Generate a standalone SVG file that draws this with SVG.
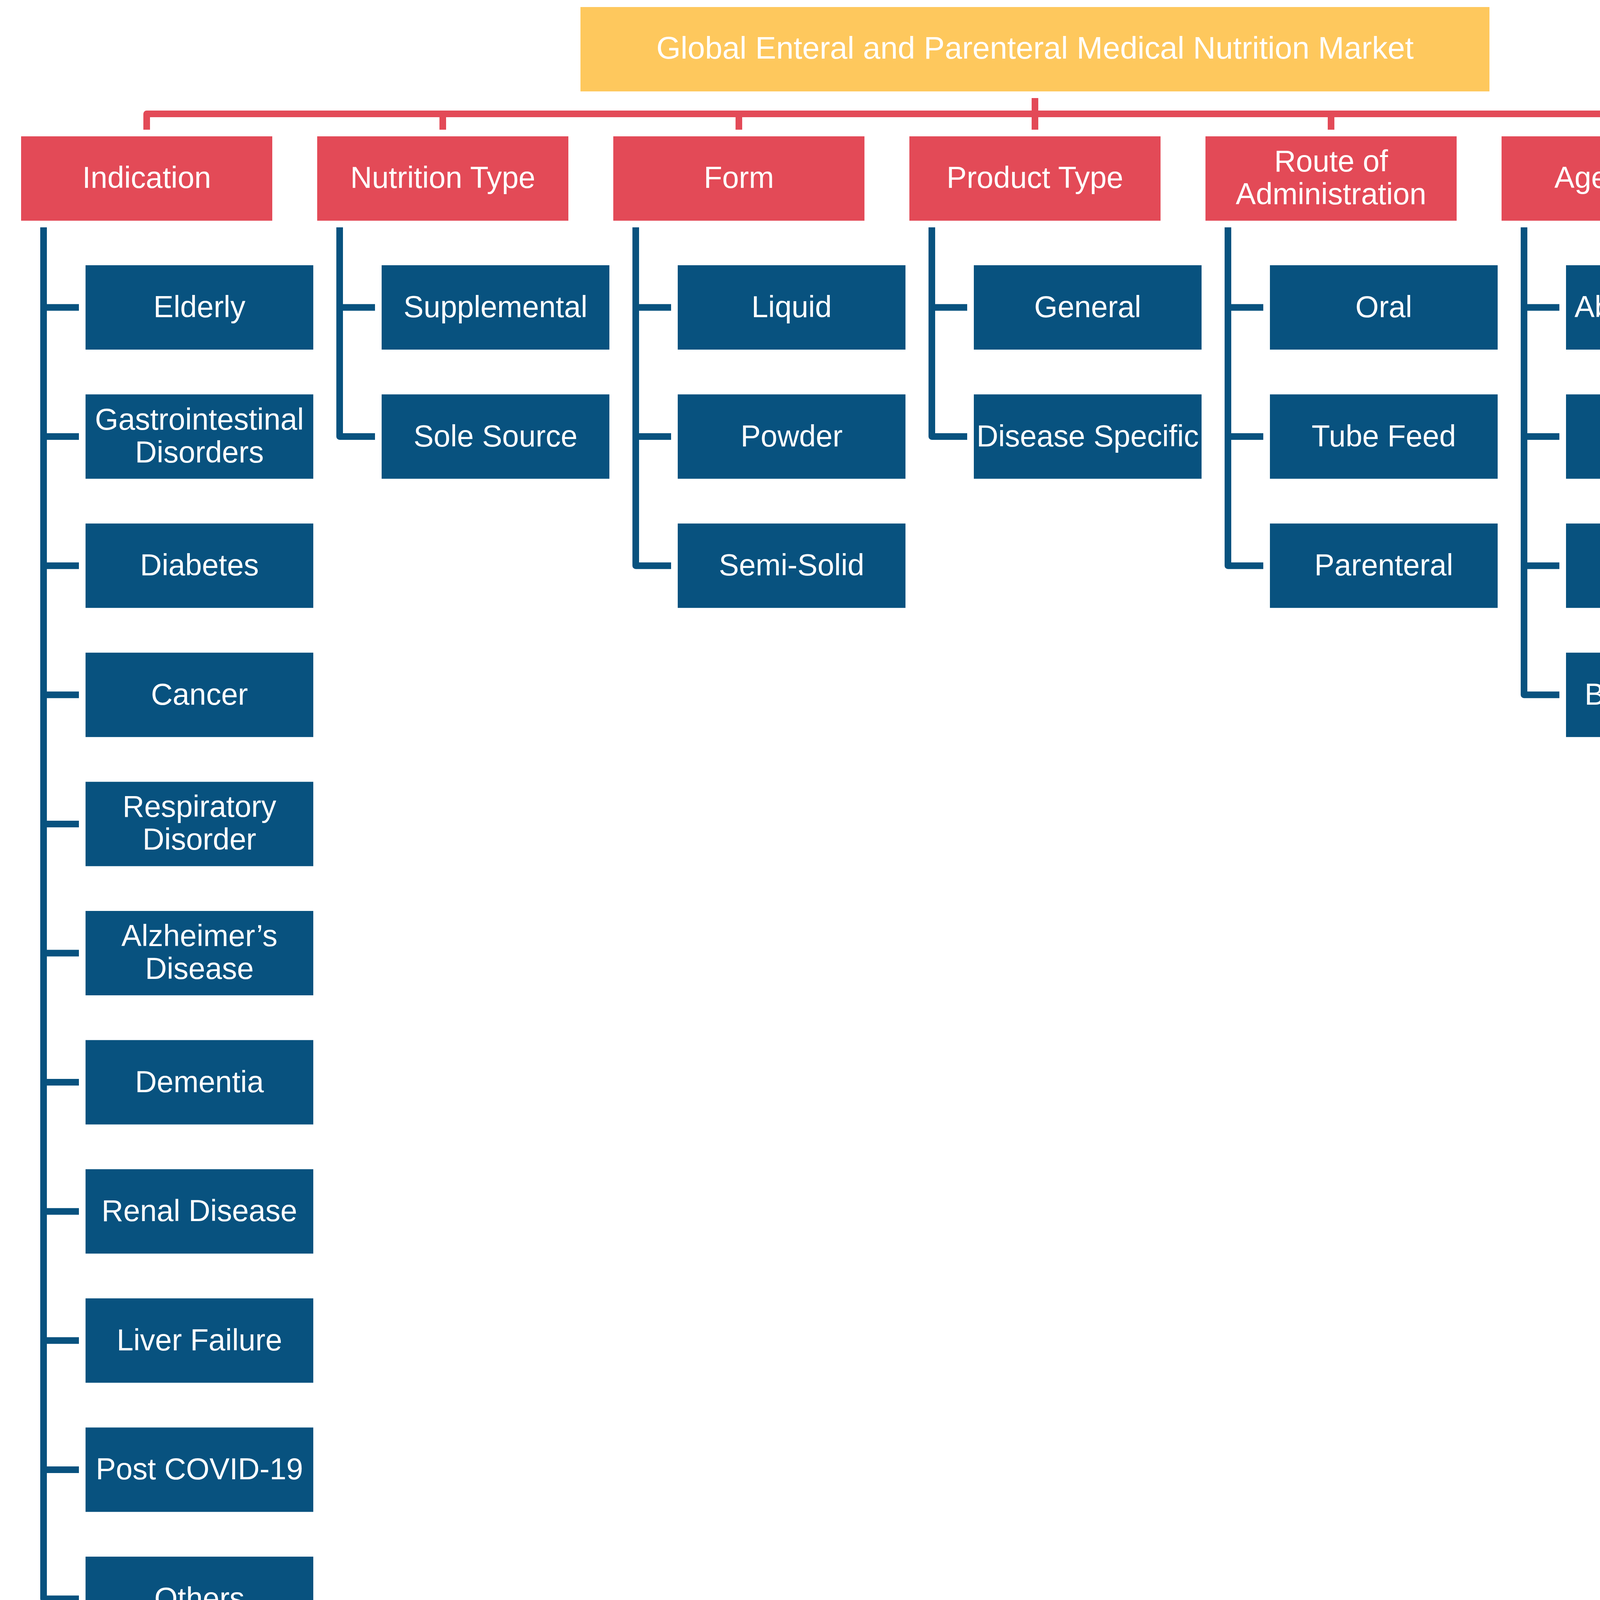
<svg xmlns="http://www.w3.org/2000/svg" width="5401" height="4218" viewBox="0 0 5401 4218">
<style>
.title{fill:#FEC85D}
.hdr{fill:#E34A57}
.leaf{fill:#08527F}
text{font-family:"Liberation Sans",Arial,sans-serif;font-size:77px;fill:#FFFFFF;text-anchor:middle}
.tt{font-size:80px}
.rc{stroke:#E34A57;stroke-width:17;fill:none;stroke-linejoin:round}
.bc{stroke:#08527F;stroke-width:17;fill:none;stroke-linejoin:round}
</style>
<rect width="5401" height="4218" fill="#FFFFFF"/>
<g id="connectors">
<path class="rc" d="M2649.5 251V291.5"/>
<path class="rc" d="M375.5 332V291.5H4923.5V332"/>
<path class="rc" d="M1133.5 291.5V332M1891.5 291.5V332M2649.5 291.5V332M3407.5 291.5V332M4165.5 291.5V332"/>
<!-- Indication -->
<path class="bc" d="M111.5 582V4093H202"/>
<path class="bc" d="M111.5 787H202M111.5 1117.6H202M111.5 1448.2H202M111.5 1778.8H202M111.5 2109.4H202M111.5 2440H202M111.5 2770.6H202M111.5 3101.2H202M111.5 3431.8H202M111.5 3762.4H202"/>
<!-- Nutrition Type -->
<path class="bc" d="M869.5 582V1117.6H960"/>
<path class="bc" d="M869.5 787H960"/>
<!-- Form -->
<path class="bc" d="M1627.5 582V1448.2H1718"/>
<path class="bc" d="M1627.5 787H1718M1627.5 1117.6H1718"/>
<!-- Product Type -->
<path class="bc" d="M2385.5 582V1117.6H2476"/>
<path class="bc" d="M2385.5 787H2476"/>
<!-- Route -->
<path class="bc" d="M3143.5 582V1448.2H3234"/>
<path class="bc" d="M3143.5 787H3234M3143.5 1117.6H3234"/>
<!-- Age -->
<path class="bc" d="M3901.5 582V1778.8H3992"/>
<path class="bc" d="M3901.5 787H3992M3901.5 1117.6H3992M3901.5 1448.2H3992"/>
<!-- Distribution -->
<path class="bc" d="M4659.5 582V1778.8H4750"/>
<path class="bc" d="M4659.5 787H4750M4659.5 1117.6H4750M4659.5 1448.2H4750"/>
</g>
<g id="root"><rect class="title" x="1486" y="18" width="2327" height="216"/><text class="tt" x="2649.5" y="150">Global Enteral and Parenteral Medical Nutrition Market</text></g>
<g id="h-indication"><rect class="hdr" x="54" y="349" width="643" height="216"/><text x="375.5" y="481">Indication</text></g>
<g id="h-nutrition"><rect class="hdr" x="812" y="349" width="643" height="216"/><text x="1133.5" y="481">Nutrition Type</text></g>
<g id="h-form"><rect class="hdr" x="1570" y="349" width="643" height="216"/><text x="1891.5" y="481">Form</text></g>
<g id="h-product"><rect class="hdr" x="2328" y="349" width="643" height="216"/><text x="2649.5" y="481">Product Type</text></g>
<g id="h-route"><rect class="hdr" x="3086" y="349" width="643" height="216"/><text x="3407.5" y="439">Route of</text><text x="3407.5" y="523">Administration</text></g>
<g id="h-age"><rect class="hdr" x="3844" y="349" width="643" height="216"/><text x="4165.5" y="481">Age Group</text></g>
<g id="h-distribution"><rect class="hdr" x="4602" y="349" width="643" height="216"/><text x="4923.5" y="439">Distribution</text><text x="4923.5" y="523">Channel</text></g>

<g id="ind-elderly"><rect class="leaf" x="219" y="679" width="583" height="216"/><text x="510.5" y="812">Elderly</text></g>
<g id="ind-gastro"><rect class="leaf" x="219" y="1009.6" width="583" height="216"/><text x="510.5" y="1099.6">Gastrointestinal</text><text x="510.5" y="1183.6">Disorders</text></g>
<g id="ind-diabetes"><rect class="leaf" x="219" y="1340.2" width="583" height="216"/><text x="510.5" y="1473.2">Diabetes</text></g>
<g id="ind-cancer"><rect class="leaf" x="219" y="1670.8" width="583" height="216"/><text x="510.5" y="1803.8">Cancer</text></g>
<g id="ind-respiratory"><rect class="leaf" x="219" y="2001.4" width="583" height="216"/><text x="510.5" y="2091.4">Respiratory</text><text x="510.5" y="2175.4">Disorder</text></g>
<g id="ind-alzheimer"><rect class="leaf" x="219" y="2332" width="583" height="216"/><text x="510.5" y="2422">Alzheimer’s</text><text x="510.5" y="2506">Disease</text></g>
<g id="ind-dementia"><rect class="leaf" x="219" y="2662.6" width="583" height="216"/><text x="510.5" y="2795.6">Dementia</text></g>
<g id="ind-renal"><rect class="leaf" x="219" y="2993.2" width="583" height="216"/><text x="510.5" y="3126.2">Renal Disease</text></g>
<g id="ind-liver"><rect class="leaf" x="219" y="3323.8" width="583" height="216"/><text x="510.5" y="3456.8">Liver Failure</text></g>
<g id="ind-covid"><rect class="leaf" x="219" y="3654.4" width="583" height="216"/><text x="510.5" y="3787.4">Post COVID-19</text></g>
<g id="ind-others"><rect class="leaf" x="219" y="3985" width="583" height="216"/><text x="510.5" y="4118">Others</text></g>

<g id="nt-supplemental"><rect class="leaf" x="977" y="679" width="583" height="216"/><text x="1268.5" y="812">Supplemental</text></g>
<g id="nt-sole"><rect class="leaf" x="977" y="1009.6" width="583" height="216"/><text x="1268.5" y="1142.6">Sole Source</text></g>

<g id="form-liquid"><rect class="leaf" x="1735" y="679" width="583" height="216"/><text x="2026.5" y="812">Liquid</text></g>
<g id="form-powder"><rect class="leaf" x="1735" y="1009.6" width="583" height="216"/><text x="2026.5" y="1142.6">Powder</text></g>
<g id="form-semisolid"><rect class="leaf" x="1735" y="1340.2" width="583" height="216"/><text x="2026.5" y="1473.2">Semi-Solid</text></g>

<g id="pt-general"><rect class="leaf" x="2493" y="679" width="583" height="216"/><text x="2784.5" y="812">General</text></g>
<g id="pt-disease"><rect class="leaf" x="2493" y="1009.6" width="583" height="216"/><text x="2784.5" y="1142.6">Disease Specific</text></g>

<g id="ra-oral"><rect class="leaf" x="3251" y="679" width="583" height="216"/><text x="3542.5" y="812">Oral</text></g>
<g id="ra-tube"><rect class="leaf" x="3251" y="1009.6" width="583" height="216"/><text x="3542.5" y="1142.6">Tube Feed</text></g>
<g id="ra-parenteral"><rect class="leaf" x="3251" y="1340.2" width="583" height="216"/><text x="3542.5" y="1473.2">Parenteral</text></g>

<g id="age-above60"><rect class="leaf" x="4009" y="679" width="583" height="216"/><text x="4300.5" y="812">Above 60 Years</text></g>
<g id="age-18-60"><rect class="leaf" x="4009" y="1009.6" width="583" height="216"/><text x="4300.5" y="1142.6">18-60 Years</text></g>
<g id="age-3-18"><rect class="leaf" x="4009" y="1340.2" width="583" height="216"/><text x="4300.5" y="1473.2">3-18 Years</text></g>
<g id="age-below3"><rect class="leaf" x="4009" y="1670.8" width="583" height="216"/><text x="4300.5" y="1803.8">Below 3 Years</text></g>

<g id="dc-hospital"><rect class="leaf" x="4767" y="679" width="583" height="216"/><text x="5058.5" y="769">Hospital</text><text x="5058.5" y="853">Pharmacies</text></g>
<g id="dc-retail"><rect class="leaf" x="4767" y="1009.6" width="583" height="216"/><text x="5058.5" y="1142.6">Retail Stores</text></g>
<g id="dc-ecommerce"><rect class="leaf" x="4767" y="1340.2" width="583" height="216"/><text x="5058.5" y="1473.2">E-Commerce</text></g>
<g id="dc-others"><rect class="leaf" x="4767" y="1670.8" width="583" height="216"/><text x="5058.5" y="1803.8">Others</text></g>
</svg>
